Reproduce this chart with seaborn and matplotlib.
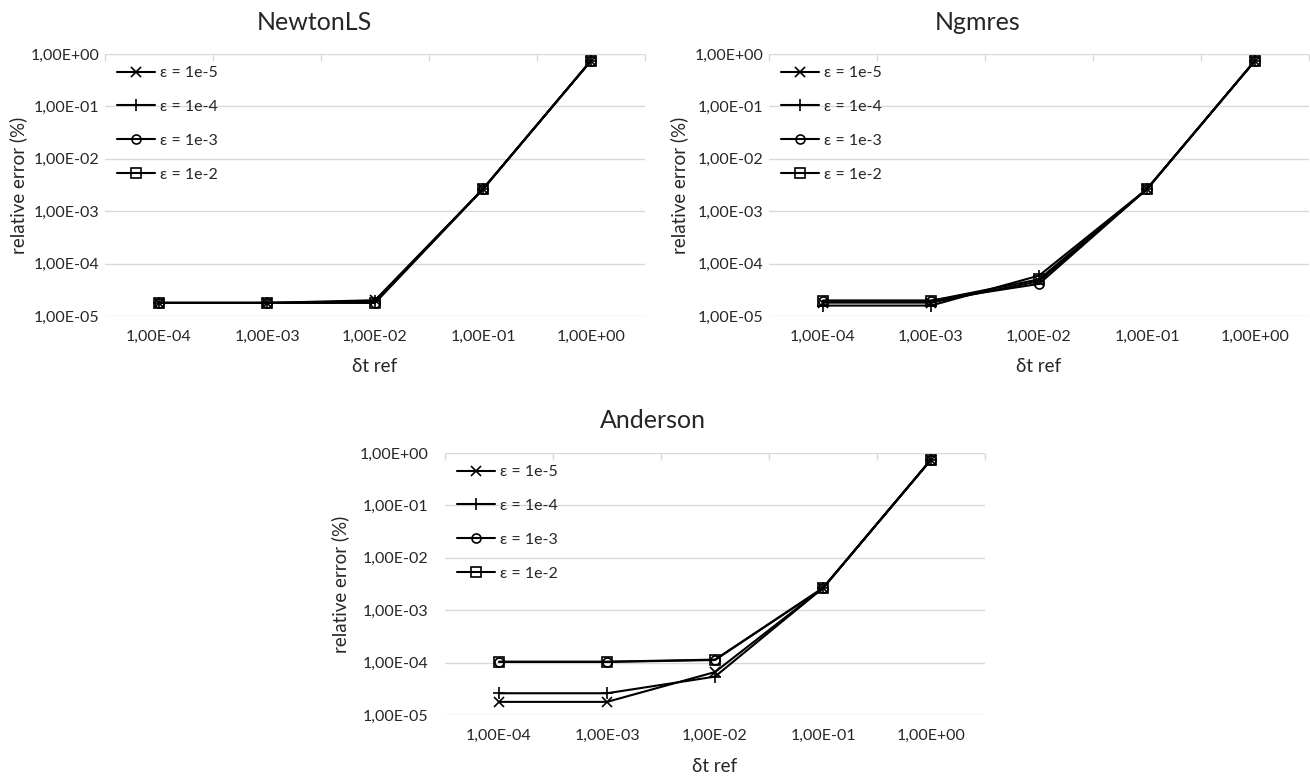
import numpy as np
import pandas as pd
import matplotlib
matplotlib.use("Agg")
import matplotlib.pyplot as plt
import seaborn as sns

sns.set_theme(style="white")
plt.rcParams["font.family"] = ["Lato", "DejaVu Sans"]

# Step sizes (categorical x axis) and y tick labels
dt_labels = ["1,00E-04", "1,00E-03", "1,00E-02", "1,00E-01", "1,00E+00"]
y_ticks = [1e-5, 1e-4, 1e-3, 1e-2, 1e-1, 1e0]
y_tick_labels = ["1,00E-05", "1,00E-04", "1,00E-03", "1,00E-02", "1,00E-01", "1,00E+00"]

eps_labels = ["ε = 1e-5", "ε = 1e-4", "ε = 1e-3", "ε = 1e-2"]

# Relative error (%) per solver and tolerance
newton_e5 = [1.78e-5, 1.78e-5, 2.00e-5, 2.65e-3, 0.745]
newton_e4 = [1.78e-5, 1.78e-5, 1.90e-5, 2.65e-3, 0.745]
newton_e3 = [1.78e-5, 1.78e-5, 1.80e-5, 2.65e-3, 0.745]
newton_e2 = [1.78e-5, 1.78e-5, 1.78e-5, 2.65e-3, 0.745]

ngmres_e5 = [1.80e-5, 1.80e-5, 4.6e-5, 2.65e-3, 0.745]
ngmres_e4 = [1.58e-5, 1.58e-5, 5.9e-5, 2.65e-3, 0.745]
ngmres_e3 = [1.97e-5, 1.97e-5, 4.1e-5, 2.65e-3, 0.745]
ngmres_e2 = [1.95e-5, 1.95e-5, 5.0e-5, 2.65e-3, 0.745]

anderson_e5 = [1.78e-5, 1.78e-5, 6.6e-5, 2.65e-3, 0.745]
anderson_e4 = [2.60e-5, 2.60e-5, 5.4e-5, 2.65e-3, 0.745]
anderson_e3 = [1.04e-4, 1.04e-4, 1.14e-4, 2.65e-3, 0.745]
anderson_e2 = [1.03e-4, 1.03e-4, 1.12e-4, 2.65e-3, 0.745]

solvers = {
    "NewtonLS": [newton_e5, newton_e4, newton_e3, newton_e2],
    "Ngmres": [ngmres_e5, ngmres_e4, ngmres_e3, ngmres_e2],
    "Anderson": [anderson_e5, anderson_e4, anderson_e3, anderson_e2],
}

markers = ["x", "+", "o", "s"]
msizes = [7, 8.5, 6.5, 6.5]

W, H = 1310, 776
fig = plt.figure(figsize=(W / 100, H / 100), dpi=100)


def box(left, right, top, bottom):
    return [left / W, 1 - bottom / H, (right - left) / W, (bottom - top) / H]


layouts = {
    "NewtonLS": dict(rect=box(105, 645, 54, 316), title_x=314, ylab_x=18, ypad=4),
    "Ngmres": dict(rect=box(769, 1309, 54, 316), title_x=978, ylab_x=679, ypad=4),
    "Anderson": dict(rect=box(445, 985, 453, 715), title_x=653, ylab_x=340, ypad=12),
}

grid_col = "#d9d9d9"
text_col = "#262626"
pos = np.arange(len(dt_labels))

for name, series in solvers.items():
    lay = layouts[name]
    ax = fig.add_axes(lay["rect"])
    left_px = lay["rect"][0] * W
    width_px = lay["rect"][2] * W
    height_px = lay["rect"][3] * H

    for vals, lab, mk, ms in zip(series, eps_labels, markers, msizes):
        df = pd.DataFrame({"pos": pos, "err": vals})
        sns.lineplot(data=df, x="pos", y="err", ax=ax, color="black",
                     linewidth=1.5, marker=mk, markersize=ms,
                     markerfacecolor="none", markeredgecolor="black",
                     markeredgewidth=1.2, label=lab)

    ax.set_yscale("log")
    ax.set_ylim(1e-5, 1e0)
    ax.set_xlim(-0.5, len(dt_labels) - 0.5)
    ax.set_yticks(y_ticks)
    ax.set_yticklabels(y_tick_labels)
    ax.yaxis.set_minor_locator(matplotlib.ticker.NullLocator())
    ax.set_xticks(pos)
    ax.set_xticklabels(dt_labels)
    ax.set_xticks(np.arange(-0.5, len(dt_labels)), minor=True)
    ax.tick_params(axis="x", which="major", length=0, pad=10, labelsize=11.5, colors=text_col)
    ax.tick_params(axis="x", which="minor", bottom=False, top=True, direction="in",
                   length=5, width=1, color=grid_col)
    ax.tick_params(axis="y", which="major", length=0, pad=lay["ypad"], labelsize=11.5, colors=text_col)
    ax.grid(axis="y", which="major", color=grid_col, linewidth=1)
    ax.grid(axis="x", visible=False)
    for sp in ax.spines.values():
        sp.set_visible(False)
    ax.set_axisbelow(True)

    ax.set_xlabel("δt ref", fontsize=13.5, color=text_col)
    ax.xaxis.set_label_coords(0.5, -51 / height_px)
    ax.xaxis.label.set_va("center")
    ax.set_ylabel("relative error (%)", fontsize=13.5, color=text_col)
    ax.yaxis.set_label_coords((lay["ylab_x"] - left_px) / width_px, 0.5)
    ax.yaxis.label.set_va("center")

    ax.text((lay["title_x"] - left_px) / width_px, 1 + 32 / height_px, name,
            transform=ax.transAxes, ha="center", va="center", fontsize=18, color=text_col)

    leg = ax.legend(loc="upper left", bbox_to_anchor=(12 / width_px, 1 - 12 / height_px),
                    frameon=False, fontsize=11.5, handlelength=2.4, handletextpad=0.3,
                    labelspacing=1.23, borderpad=0, borderaxespad=0)
    for t in leg.get_texts():
        t.set_color(text_col)

fig.savefig("out.png", dpi=100, facecolor="white")
